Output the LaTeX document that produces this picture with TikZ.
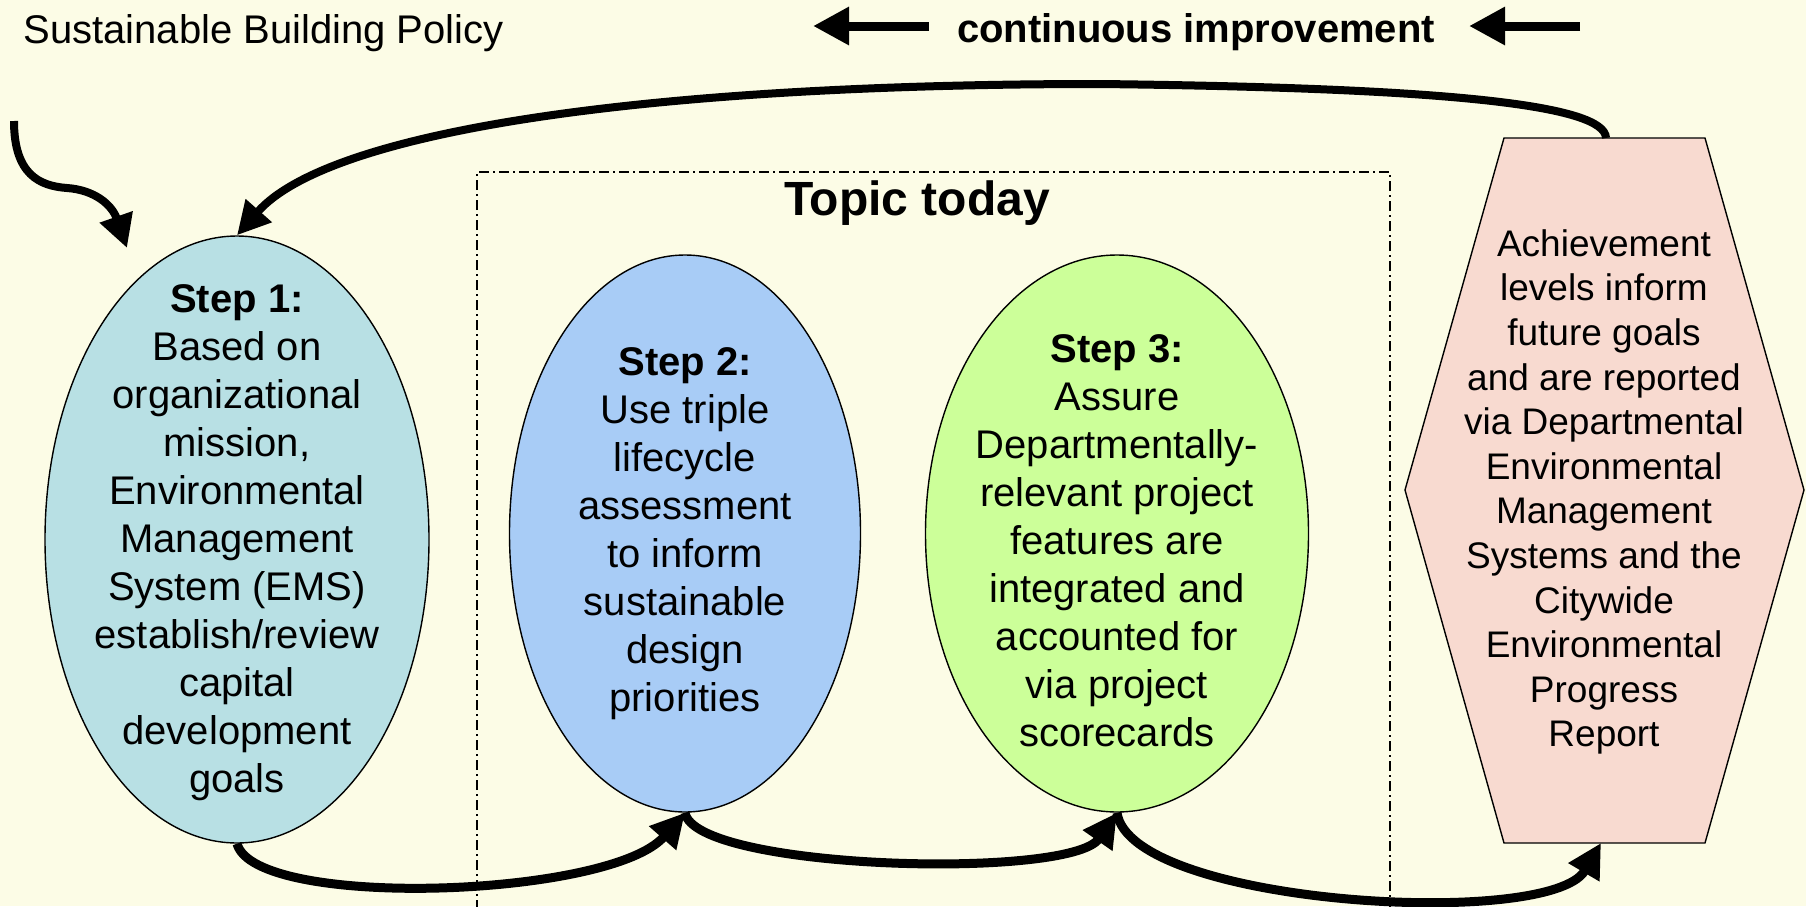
\documentclass[tikz,border=0pt]{standalone}
\usepackage{fontspec}
\setmainfont{Liberation Sans}
\usetikzlibrary{arrows.meta,shapes.geometric}
\definecolor{bgc}{RGB}{252,252,230}
\definecolor{cone}{RGB}{184,224,228}
\definecolor{ctwo}{RGB}{168,204,246}
\definecolor{cthree}{RGB}{204,255,153}
\definecolor{cfour}{RGB}{248,218,208}
\begin{document}
\begin{tikzpicture}[x=0.5pt,y=-0.5pt,
  stepell/.style={ellipse, draw=black, line width=0.7pt, inner sep=0pt},
  steptxt/.style={align=center, font=\fontsize{20}{24}\selectfont, inner sep=0pt},
  hextxt/.style={align=center, font=\fontsize{18.5}{22.3}\selectfont, inner sep=0pt},
  bigarrow/.style={line width=4pt, -{Triangle[length=16.5pt,width=16.5pt]}},
  botarrow/.style={line width=4.5pt, -{Triangle[length=17pt,width=17pt]}},
  ciarrow/.style={line width=4.5pt, -{Triangle[length=18pt,width=18pt]}},
  boxline/.style={line width=0.6pt, dash pattern=on 5pt off 2pt on 1pt off 2pt}
]
\useasboundingbox (0,0) rectangle (1806,906);
\fill[bgc] (0,0) rectangle (1806,906);

% dash-dot frame
\draw[boxline] (477,910) -- (477,172) -- (1390,172) -- (1390,910);
\node[anchor=base, inner sep=0pt, font=\fontsize{24}{28}\selectfont\bfseries] (topic) at (917,215) {Topic today};

% top texts
\node[anchor=base west, inner sep=0pt, font=\fontsize{20}{24}\selectfont] (policy) at (23,43) {Sustainable Building Policy};
\node[anchor=base, inner sep=0pt, font=\fontsize{20}{24}\selectfont\bfseries] (ci) at (1196,42) {continuous improvement};
\coordinate (la0) at (929,26);
\coordinate (la1) at (813,26);
\coordinate (ra0) at (1580,26);
\coordinate (ra1) at (1469,26);
\draw[ciarrow] (la0) -- (la1);
\draw[ciarrow] (ra0) -- (ra1);

% ellipses
\node[stepell, fill=cone, minimum width=192pt, minimum height=303.5pt] (s1) at (237,539.5) {};
\node[stepell, fill=ctwo, minimum width=175.5pt, minimum height=278.5pt] (s2) at (685,533.5) {};
\node[stepell, fill=cthree, minimum width=191.5pt, minimum height=278.5pt] (s3) at (1117,533.5) {};

% hexagon
\draw[fill=cfour, line width=0.7pt] (1504,138) -- (1705,138) -- (1804,490) -- (1705,843) -- (1504,843) -- (1405,490) -- cycle;
\coordinate (hextop) at (1606,138);
\coordinate (hexbot) at (1601,843);

% texts
\node[steptxt] (t1) at (237,543) {\textbf{Step 1:}\\Based on\\organizational\\mission,\\Environmental\\Management\\System (EMS)\\establish/review\\capital\\development\\goals};
\node[steptxt] (t2) at (685,534) {\textbf{Step 2:}\\Use triple\\lifecycle\\assessment\\to inform\\sustainable\\design\\priorities};
\node[steptxt] (t3) at (1117,541) {\textbf{Step 3:}\\Assure\\Departmentally-\\relevant project\\features are\\integrated and\\accounted for\\via project\\scorecards};
\node[hextxt] (t4) at (1604,492) {Achievement\\levels inform\\future goals\\and are reported\\via Departmental\\Environmental\\Management\\Systems and the\\Citywide\\Environmental\\Progress\\Report};

% connectors
\draw[bigarrow] (hextop) .. controls (1605,105) and (1450,88) .. (1100,84) .. controls (650,84) and (330,130) .. (s1.north);
\coordinate (in0) at (14,121);
\coordinate (in1) at (127,248);
\draw[bigarrow] (in0) .. controls (14,175) and (40,186) .. (67,188) .. controls (95,190) and (112,205) .. (in1);
\draw[botarrow] (s1.south) .. controls (255,910) and (610,898) .. (s2.south);
\draw[botarrow] (s2.south) .. controls (695,870) and (1070,880) .. (s3.south);
\draw[botarrow] (s3.south) .. controls (1130,905) and (1550,930) .. (hexbot);
\end{tikzpicture}
\end{document}
